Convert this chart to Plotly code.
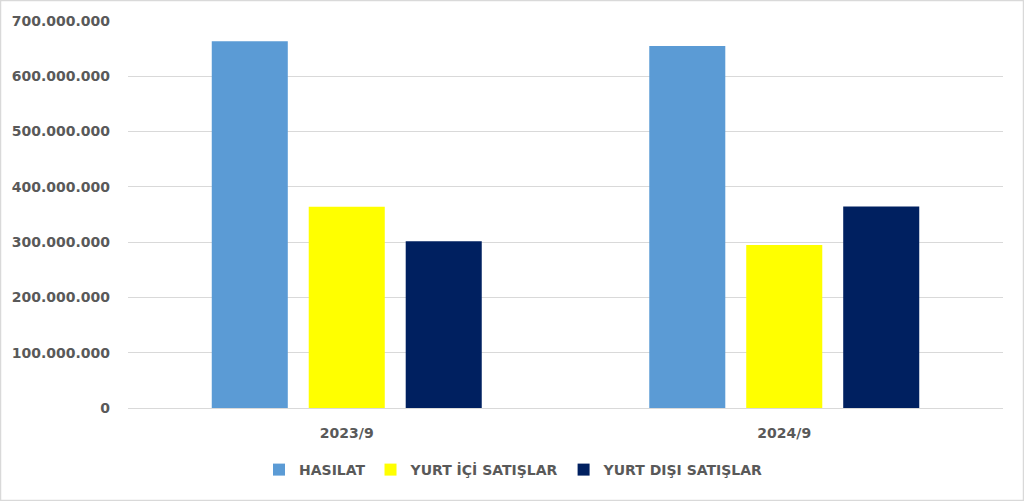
import plotly.graph_objects as go

categories = ["2023/9", "2024/9"]
hasilat = [663400000, 654900000]
yurt_ici = [363800000, 295000000]
yurt_disi = [301600000, 364500000]

series = [
    ("HASILAT", hasilat, "#5b9bd5"),
    ("YURT İÇİ SATIŞLAR", yurt_ici, "#ffff00"),
    ("YURT DIŞI SATIŞLAR", yurt_disi, "#002060"),
]

W, H = 1024, 501
L, R, T, B = 128, 21, 21, 93
pw, ph = W - L - R, H - T - B

fig = go.Figure()
for name, vals, color in series:
    fig.add_trace(go.Bar(x=categories, y=vals, name=name,
                         marker=dict(color=color, line=dict(width=0))))

font = dict(family="DejaVu Sans", size=14, color="#595959", weight="bold")

fig.update_layout(
    width=W, height=H,
    margin=dict(l=L, r=R, t=T, b=B, pad=0),
    paper_bgcolor="white", plot_bgcolor="white",
    separators=",.",
    barmode="group",
    bargap=0.335,
    bargroupgap=0.216,
    font=font,
    showlegend=True,
    legend=dict(orientation="h", x=(514 - L) / pw, xanchor="center",
                y=(T + ph - 470) / ph, yanchor="middle",
                font=font, itemwidth=30, traceorder="normal"),
    xaxis=dict(showgrid=False, showline=True, linecolor="#d9d9d9", linewidth=1,
               ticks="", tickfont=font, ticklabelstandoff=12),
    yaxis=dict(range=[0, 700000000], dtick=100000000, tickformat=",d",
               showgrid=True, gridcolor="#d9d9d9", gridwidth=1,
               zeroline=False, showline=False, ticks="",
               ticklabelstandoff=17, tickfont=font),
)

# thin frame around the whole chart
fig.add_shape(type="rect", xref="paper", yref="paper",
              x0=(0.5 - L) / pw, x1=(W - 0.5 - L) / pw,
              y0=(T + ph - (H - 0.5)) / ph, y1=(T + ph - 0.5) / ph,
              line=dict(color="#d9d9d9", width=1.5), layer="below")

fig.write_html("out.html", config={"displayModeBar": False},
               post_script="document.body.style.margin='0';")
